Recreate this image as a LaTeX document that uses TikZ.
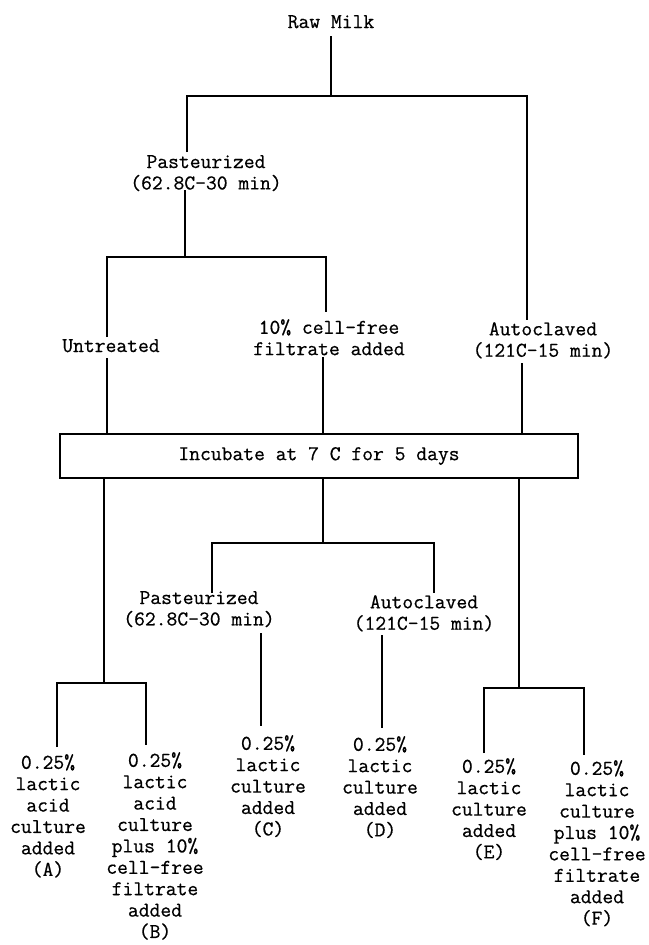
\documentclass[tikz,border=0pt]{standalone}
\usepackage{fontspec}
\newfontfamily\twfont{Latin Modern Mono}[FakeBold=0.6]
\begin{document}
\begin{tikzpicture}[x=1pt,y=-1pt,
  lbl/.style={font=\twfont\fontsize{21}{21.4}\selectfont, align=center, inner sep=0pt, anchor=north},
  wire/.style={line width=1.4pt}]
\useasboundingbox (0,0) rectangle (648,945);
% labels
\node[lbl] (raw) at (331,15) {Raw Milk};
\node[lbl] (past1) at (206,155) {Pasteurized\\(62.8C-30 min)};
\node[lbl] (untr) at (111,339) {Untreated};
\node[lbl] (filt) at (329,319) {10\% cell-free\\filtrate added};
\node[lbl] (auto1) at (543,322) {Autoclaved\\(121C-15 min)};
\node[lbl, draw, line width=1.4pt, anchor=center, minimum width=518pt, minimum height=44pt] (inc) at (319,456) {Incubate at 7 C for 5 days};
\node[lbl] (past2) at (199,591) {Pasteurized\\(62.8C-30 min)};
\node[lbl] (auto2) at (424,595) {Autoclaved\\(121C-15 min)};
\node[lbl] (A) at (48,754) {0.25\%\\lactic\\acid\\culture\\added\\(A)};
\node[lbl] (B) at (155,752) {0.25\%\\lactic\\acid\\culture\\plus 10\%\\cell-free\\filtrate\\added\\(B)};
\node[lbl] (C) at (268,735) {0.25\%\\lactic\\culture\\added\\(C)};
\node[lbl] (D) at (380,736) {0.25\%\\lactic\\culture\\added\\(D)};
\node[lbl] (E) at (489,758) {0.25\%\\lactic\\culture\\added\\(E)};
\node[lbl] (F) at (597,760) {0.25\%\\lactic\\culture\\plus 10\%\\cell-free\\filtrate\\added\\(F)};
% junction coordinates
\coordinate (r0) at (331,36);
\coordinate (j1) at (331,96);
\coordinate (j1l) at (187,96);
\coordinate (j1r) at (527,96);
\coordinate (p1top) at (187,152);
\coordinate (a1top) at (527,320);
\coordinate (p1bot) at (185,190);
\coordinate (j2) at (185,257);
\coordinate (j2l) at (107,257);
\coordinate (j2r) at (326,257);
\coordinate (uttop) at (107,337);
\coordinate (fitop) at (326,312);
\coordinate (utbot) at (107,358);
\coordinate (fibot) at (323,357);
\coordinate (a1bot) at (522,363);
\coordinate (jl) at (104,478);
\coordinate (jm) at (323,478);
\coordinate (jr) at (519,478);
\coordinate (k1) at (104,683);
\coordinate (k1l) at (57,683);
\coordinate (k1r) at (146,683);
\coordinate (Atop) at (57,747);
\coordinate (Btop) at (146,745);
\coordinate (k2) at (323,543);
\coordinate (k2l) at (212,543);
\coordinate (k2r) at (434,543);
\coordinate (p2top) at (212,593);
\coordinate (a2top) at (434,593);
\coordinate (p2bot) at (261,633);
\coordinate (Ctop) at (261,726);
\coordinate (a2bot) at (382,635);
\coordinate (Dtop) at (382,728);
\coordinate (k3) at (519,688);
\coordinate (k3l) at (484,688);
\coordinate (k3r) at (584,688);
\coordinate (Etop) at (484,753);
\coordinate (Ftop) at (584,755);
% connectors
\draw[wire] (r0) -- (j1);
\draw[wire] (p1top) -- (j1l) -- (j1r) -- (a1top);
\draw[wire] (p1bot) -- (j2);
\draw[wire] (uttop) -- (j2l) -- (j2r) -- (fitop);
\draw[wire] (utbot) -- (utbot |- inc.north);
\draw[wire] (fibot) -- (fibot |- inc.north);
\draw[wire] (a1bot) -- (a1bot |- inc.north);
\draw[wire] (jl |- inc.south) -- (k1);
\draw[wire] (Atop) -- (k1l) -- (k1r) -- (Btop);
\draw[wire] (jm |- inc.south) -- (k2);
\draw[wire] (p2top) -- (k2l) -- (k2r) -- (a2top);
\draw[wire] (p2bot) -- (Ctop);
\draw[wire] (a2bot) -- (Dtop);
\draw[wire] (jr |- inc.south) -- (k3);
\draw[wire] (Etop) -- (k3l) -- (k3r) -- (Ftop);
\end{tikzpicture}
\end{document}
